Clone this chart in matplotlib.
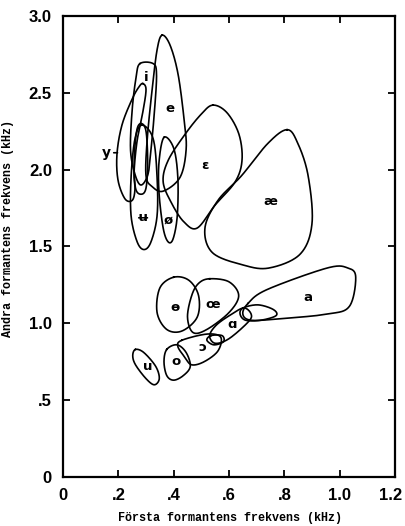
import numpy as np
import matplotlib
matplotlib.use("Agg")
import matplotlib.pyplot as plt
from matplotlib.transforms import ScaledTranslation

# vowel areas in the F1/F2 plane, outlines as (F1, F2) in kHz
vowel_e = [(0.358, 2.875), (0.387, 2.81), (0.416, 2.62), (0.438, 2.32), (0.445, 2.13),
           (0.423, 1.95), (0.362, 1.86), (0.322, 1.89), (0.300, 1.96), (0.304, 2.19),
           (0.322, 2.52), (0.340, 2.78)]
vowel_i = [(0.278, 2.69), (0.326, 2.69), (0.338, 2.62), (0.331, 2.39), (0.318, 2.13),
           (0.307, 1.97), (0.282, 1.90), (0.260, 1.97), (0.244, 2.13), (0.250, 2.39),
           (0.264, 2.60)]
vowel_y = [(0.289, 2.56), (0.300, 2.52), (0.289, 2.38), (0.268, 2.19), (0.257, 1.99),
           (0.260, 1.87), (0.250, 1.80), (0.224, 1.81), (0.199, 1.93), (0.195, 2.10),
           (0.213, 2.29), (0.250, 2.46), (0.275, 2.54)]
vowel_y2 = [(0.282, 2.30), (0.300, 2.25), (0.306, 2.05), (0.300, 1.88), (0.282, 1.84),
            (0.262, 1.88), (0.257, 2.05), (0.266, 2.25)]
vowel_u_bar = [(0.286, 2.29), (0.326, 2.20), (0.340, 1.95), (0.340, 1.70), (0.318, 1.53),
               (0.293, 1.48), (0.268, 1.53), (0.246, 1.70), (0.246, 1.95), (0.260, 2.20)]
vowel_oe_slash = [(0.365, 2.21), (0.400, 2.14), (0.415, 1.95), (0.413, 1.70), (0.398, 1.55),
                  (0.380, 1.53), (0.362, 1.62), (0.347, 1.85), (0.347, 2.05)]
vowel_eps = [(0.542, 2.42), (0.593, 2.37), (0.636, 2.23), (0.647, 2.06), (0.622, 1.92),
             (0.550, 1.77), (0.485, 1.62), (0.437, 1.66), (0.393, 1.78), (0.362, 1.92),
             (0.380, 2.06), (0.441, 2.23), (0.499, 2.36)]
vowel_ae = [(0.810, 2.26), (0.849, 2.17), (0.886, 1.96), (0.900, 1.65), (0.857, 1.45),
            (0.745, 1.36), (0.650, 1.38), (0.540, 1.46), (0.513, 1.62), (0.560, 1.80),
            (0.645, 1.96), (0.740, 2.17)]
vowel_a = [(0.669, 1.13), (0.738, 1.22), (0.955, 1.36), (1.030, 1.36), (1.058, 1.30),
           (1.035, 1.11), (0.955, 1.06), (0.785, 1.03), (0.680, 1.02), (0.650, 1.06)]
vowel_a_small = [(0.651, 1.10), (0.705, 1.12), (0.760, 1.09), (0.770, 1.05), (0.715, 1.02),
                 (0.660, 1.02), (0.640, 1.06)]
vowel_alpha = [(0.654, 1.10), (0.680, 1.06), (0.670, 1.01), (0.600, 0.90), (0.550, 0.87),
               (0.530, 0.92), (0.555, 0.99), (0.610, 1.06)]
vowel_open_o = [(0.430, 0.89), (0.520, 0.93), (0.570, 0.91), (0.560, 0.82), (0.510, 0.75),
                (0.465, 0.73), (0.440, 0.78), (0.415, 0.85)]
vowel_open_o2 = [(0.535, 0.92), (0.575, 0.92), (0.580, 0.88), (0.545, 0.86), (0.520, 0.89)]
vowel_o = [(0.375, 0.83), (0.412, 0.86), (0.445, 0.81), (0.460, 0.72), (0.435, 0.66),
           (0.400, 0.63), (0.375, 0.66), (0.365, 0.75)]
vowel_u = [(0.262, 0.83), (0.292, 0.81), (0.335, 0.72), (0.348, 0.64), (0.330, 0.60),
           (0.300, 0.64), (0.262, 0.73), (0.252, 0.79)]
vowel_theta = [(0.400, 1.30), (0.455, 1.28), (0.490, 1.18), (0.485, 1.04), (0.430, 0.95),
               (0.375, 0.96), (0.340, 1.07), (0.350, 1.23)]
vowel_oe = [(0.530, 1.29), (0.600, 1.27), (0.635, 1.18), (0.600, 1.07), (0.520, 0.96),
            (0.470, 0.94), (0.450, 1.04), (0.465, 1.18), (0.490, 1.26)]

outlines = [vowel_e, vowel_i, vowel_y, vowel_y2, vowel_u_bar, vowel_oe_slash, vowel_eps,
            vowel_ae, vowel_a, vowel_a_small, vowel_alpha, vowel_open_o, vowel_open_o2,
            vowel_o, vowel_u, vowel_theta, vowel_oe]

label_text = ["e", "i", "ʉ", "ø", "ɛ", "æ", "a", "ɑ", "ɔ", "o", "u", "ɵ", "œ"]
label_f1 = [0.387, 0.300, 0.290, 0.378, 0.514, 0.750, 0.886, 0.610, 0.505, 0.410, 0.308, 0.405, 0.540]
label_f2 = [2.40, 2.60, 1.69, 1.67, 2.03, 1.79, 1.17, 0.99, 0.84, 0.75, 0.72, 1.10, 1.12]

xticks = [0, 0.2, 0.4, 0.6, 0.8, 1.0, 1.2]
xtick_labels = ["0", ".2", ".4", ".6", ".8", "1.0", "1.2"]
yticks = [0, 0.5, 1.0, 1.5, 2.0, 2.5, 3.0]
ytick_labels = ["0", ".5", "1.0", "1.5", "2.0", "2.5", "3.0"]


def closed_spline(pts, n=40):
    # periodic Catmull-Rom through the outline points
    p = np.asarray(pts, dtype=float)
    m = len(p)
    out = []
    for k in range(m):
        p0, p1, p2, p3 = p[k - 1], p[k], p[(k + 1) % m], p[(k + 2) % m]
        t = np.linspace(0, 1, n, endpoint=False)[:, None]
        seg = 0.5 * ((2 * p1) + (-p0 + p2) * t + (2 * p0 - 5 * p1 + 4 * p2 - p3) * t ** 2
                     + (-p0 + 3 * p1 - 3 * p2 + p3) * t ** 3)
        out.append(seg)
    out = np.vstack(out)
    return np.vstack([out, out[:1]])


fig = plt.figure(figsize=(4.05, 5.26), dpi=100)
ax = fig.add_axes([0.1556, 0.0932, 0.8197, 0.8764])

for pts in outlines:
    c = closed_spline(pts)
    ax.plot(c[:, 0], c[:, 1], color="black", lw=1.2, solid_joinstyle="round")

for txt, x, y in zip(label_text, label_f1, label_f2):
    ax.text(x, y, txt, ha="center", va="center", fontsize=9.5, fontweight="bold",
            family="DejaVu Sans")

# y label with its short pointer
ax.annotate("y", xy=(0.197, 2.11), xytext=(0.157, 2.11), ha="center", va="center",
            fontsize=10, fontweight="bold",
            arrowprops=dict(arrowstyle="-", lw=1.2, color="black", shrinkA=4, shrinkB=0))

ax.set_xlim(0, 1.2)
ax.set_ylim(0, 3.0)
ax.set_xticks(xticks)
ax.set_xticklabels(xtick_labels)
ax.set_yticks(yticks)
ax.set_yticklabels(ytick_labels)

ax.tick_params(direction="in", length=5, width=1.3, top=True, right=True, pad=8)
for s in ax.spines.values():
    s.set_linewidth(1.6)

for lab in ax.get_xticklabels() + ax.get_yticklabels():
    lab.set_family("Liberation Sans")
    lab.set_fontsize(12)
    lab.set_fontweight("bold")

# nudge the last x label so it stays inside the figure
last = ax.get_xticklabels()[-1]
last.set_transform(last.get_transform() + ScaledTranslation(-0.04, 0, fig.dpi_scale_trans))

ax.set_xlabel("Första formantens frekvens (kHz)", family="Liberation Mono",
              fontweight="bold", fontsize=8.5)
ax.set_ylabel("Andra formantens frekvens (kHz)", family="Liberation Mono",
              fontweight="bold", fontsize=8.5)
ax.xaxis.set_label_coords(0.503, -0.076)
ax.yaxis.set_label_coords(-0.148, 0.54)

fig.savefig("out.png", dpi=100)
